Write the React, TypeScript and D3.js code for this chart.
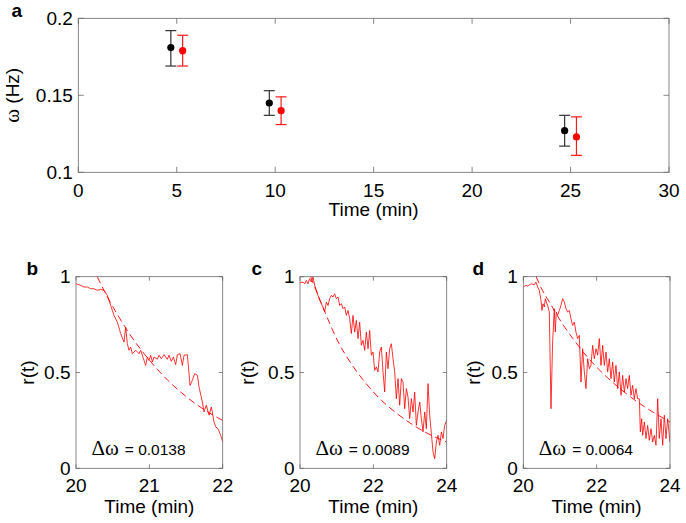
import React from 'react';
import * as d3 from 'd3';

// ---------- Panel a data ----------
const aTicksX = [0, 5, 10, 15, 20, 25, 30];
const aTicksY = [0.1, 0.15, 0.2];
const blackTime = [4.7, 9.7, 24.7];
const blackOmega = [0.181, 0.145, 0.127];
const blackLow = [0.169, 0.137, 0.117];
const blackHigh = [0.192, 0.153, 0.137];
const redTime = [5.3, 10.3, 25.3];
const redOmega = [0.179, 0.140, 0.123];
const redLow = [0.169, 0.131, 0.111];
const redHigh = [0.189, 0.149, 0.136];

// ---------- Panels b-d data ----------
const rTicks = [0, 0.5, 1];
const ticksB = [20, 21, 22];
const ticksCD = [20, 22, 24];
const deltaOmega = ['0.0138', '0.0089', '0.0064'];

const solidB: [number, number][] = [
  [20.0, 0.963], [20.064, 0.955], [20.109, 0.946], [20.155, 0.946], [20.2, 0.937], [20.245, 0.937],
  [20.291, 0.929], [20.336, 0.934], [20.382, 0.929], [20.427, 0.903], [20.473, 0.85], [20.518, 0.798],
  [20.564, 0.763], [20.609, 0.703], [20.655, 0.659], [20.677, 0.737], [20.7, 0.65], [20.723, 0.616],
  [20.745, 0.633], [20.768, 0.598], [20.814, 0.616], [20.859, 0.598], [20.882, 0.616], [20.927, 0.563],
  [20.95, 0.537], [20.973, 0.581], [20.995, 0.563], [21.018, 0.59], [21.041, 0.555], [21.064, 0.581],
  [21.109, 0.569], [21.132, 0.59], [21.164, 0.572], [21.2, 0.593], [21.245, 0.569], [21.268, 0.59],
  [21.3, 0.558], [21.327, 0.581], [21.359, 0.541], [21.382, 0.593], [21.418, 0.598], [21.45, 0.537],
  [21.473, 0.59], [21.518, 0.593], [21.555, 0.433], [21.586, 0.459], [21.618, 0.494], [21.655, 0.485],
  [21.677, 0.424], [21.723, 0.346], [21.745, 0.294], [21.777, 0.329], [21.814, 0.277], [21.845, 0.32],
  [21.882, 0.242], [21.905, 0.216], [21.936, 0.207], [21.973, 0.172], [22.0, 0.137],
];
const dashB: [number, number][] = [
  [20.29, 1.0], [20.4, 0.915], [20.5, 0.845], [20.6, 0.78], [20.75, 0.69], [21.0, 0.565],
  [21.25, 0.46], [21.5, 0.375], [21.75, 0.305], [22.0, 0.25],
];

const solidC: [number, number][] = [
  [20.0, 0.969], [20.082, 0.972], [20.127, 0.963], [20.173, 0.981], [20.218, 0.963], [20.264, 0.99],
  [20.309, 0.972], [20.355, 0.998], [20.4, 0.955], [20.445, 0.929], [20.491, 0.903], [20.536, 0.877],
  [20.582, 0.859], [20.627, 0.842], [20.673, 0.816], [20.718, 0.868], [20.764, 0.85], [20.809, 0.885],
  [20.855, 0.903], [20.9, 0.894], [20.945, 0.911], [20.991, 0.885], [21.036, 0.894], [21.082, 0.85],
  [21.127, 0.859], [21.173, 0.833], [21.218, 0.842], [21.264, 0.798], [21.309, 0.824], [21.355, 0.781],
  [21.4, 0.703], [21.445, 0.798], [21.491, 0.711], [21.536, 0.772], [21.582, 0.677], [21.627, 0.763],
  [21.673, 0.642], [21.718, 0.668], [21.764, 0.616], [21.809, 0.711], [21.855, 0.624], [21.9, 0.72],
  [21.945, 0.59], [21.991, 0.607], [22.036, 0.511], [22.082, 0.529], [22.127, 0.503], [22.173, 0.607],
  [22.218, 0.633], [22.264, 0.503], [22.309, 0.398], [22.355, 0.607], [22.4, 0.52], [22.445, 0.624],
  [22.491, 0.65], [22.536, 0.572], [22.582, 0.503], [22.627, 0.363], [22.673, 0.468], [22.718, 0.329],
  [22.764, 0.468], [22.809, 0.45], [22.855, 0.311], [22.9, 0.416], [22.945, 0.372], [22.991, 0.259],
  [23.036, 0.363], [23.082, 0.294], [23.127, 0.398], [23.173, 0.224], [23.218, 0.294], [23.264, 0.346],
  [23.309, 0.259], [23.355, 0.19], [23.4, 0.294], [23.445, 0.207], [23.491, 0.442], [23.536, 0.277],
  [23.582, 0.181], [23.627, 0.085], [23.673, 0.05], [23.718, 0.137], [23.764, 0.172], [23.809, 0.12],
  [23.855, 0.19], [23.9, 0.155], [23.945, 0.224], [24.0, 0.25],
];
const dashC: [number, number][] = [
  [20.29, 1.0], [20.5, 0.9], [20.67, 0.82], [21.04, 0.66], [21.4, 0.545], [21.76, 0.452],
  [22.22, 0.355], [22.67, 0.282], [23.13, 0.22], [23.58, 0.172], [24.0, 0.137],
];

const solidD: [number, number][] = [
  [20.0, 0.946], [20.073, 0.955], [20.118, 0.951], [20.209, 0.963], [20.3, 0.958], [20.345, 0.972],
  [20.391, 0.946], [20.436, 0.929], [20.482, 0.877], [20.509, 0.824], [20.536, 0.859], [20.573, 0.842],
  [20.6, 0.885], [20.627, 0.868], [20.664, 0.85], [20.709, 0.816], [20.755, 0.311], [20.8, 0.659],
  [20.845, 0.833], [20.873, 0.711], [20.9, 0.816], [20.936, 0.798], [20.982, 0.824], [21.027, 0.85],
  [21.073, 0.885], [21.118, 0.868], [21.164, 0.833], [21.209, 0.816], [21.255, 0.824], [21.3, 0.781],
  [21.345, 0.746], [21.391, 0.763], [21.436, 0.711], [21.482, 0.677], [21.527, 0.694], [21.573, 0.45],
  [21.618, 0.624], [21.664, 0.503], [21.709, 0.416], [21.755, 0.572], [21.8, 0.52], [21.845, 0.537],
  [21.891, 0.642], [21.936, 0.572], [21.982, 0.624], [22.027, 0.59], [22.073, 0.677], [22.118, 0.537],
  [22.164, 0.642], [22.209, 0.537], [22.255, 0.607], [22.3, 0.503], [22.345, 0.572], [22.391, 0.468],
  [22.436, 0.555], [22.482, 0.45], [22.527, 0.537], [22.573, 0.416], [22.618, 0.503], [22.664, 0.381],
  [22.709, 0.485], [22.755, 0.398], [22.8, 0.468], [22.845, 0.416], [22.891, 0.485], [22.936, 0.381],
  [22.982, 0.433], [23.027, 0.363], [23.073, 0.416], [23.118, 0.363], [23.164, 0.363], [23.191, 0.19],
  [23.227, 0.259], [23.255, 0.172], [23.3, 0.242], [23.345, 0.155], [23.391, 0.224], [23.436, 0.146],
  [23.482, 0.207], [23.527, 0.137], [23.573, 0.172], [23.618, 0.12], [23.664, 0.363], [23.709, 0.155],
  [23.755, 0.259], [23.8, 0.12], [23.845, 0.277], [23.891, 0.155], [23.936, 0.259], [24.0, 0.137],
];
const dashD: [number, number][] = [
  [20.35, 1.0], [20.48, 0.945], [20.75, 0.855], [21.03, 0.765], [21.4, 0.665], [21.75, 0.58],
  [22.2, 0.49], [22.66, 0.412], [23.3, 0.322], [23.65, 0.28], [24.0, 0.242],
];

const SANS = '"Liberation Sans", Arial, Helvetica, sans-serif';
const SERIF = '"Liberation Serif", "Times New Roman", serif';
const FRAME = '#6a6a6a';
const FS = 19;
const LETTER_FS = 19;

function PanelA() {
  const left = 78.3, right = 669, top = 18.3, bottom = 172.3;
  const x = d3.scaleLinear().domain([0, 30]).range([left, right]);
  const y = d3.scaleLinear().domain([0.1, 0.2]).range([bottom, top]);
  const tl = 5.5;
  const series = [
    { t: blackTime, v: blackOmega, lo: blackLow, hi: blackHigh, bar: '#333333', dot: '#000000' },
    { t: redTime, v: redOmega, lo: redLow, hi: redHigh, bar: '#ff1a1a', dot: '#ff0000' },
  ];
  return (
    <g>
      <text x={11.5} y={17} fontFamily={SANS} fontWeight="bold" fontSize={LETTER_FS}>a</text>
      {aTicksX.map((t) => (
        <g key={'ax' + t}>
          <line x1={x(t)} x2={x(t)} y1={bottom} y2={bottom - tl} stroke={FRAME} strokeWidth={0.8} />
          <line x1={x(t)} x2={x(t)} y1={top} y2={top + tl} stroke={FRAME} strokeWidth={0.8} />
          <text x={x(t)} y={bottom + 24.5} textAnchor="middle" fontFamily={SANS} fontSize={FS}>{t}</text>
        </g>
      ))}
      {aTicksY.map((v) => (
        <g key={'ay' + v}>
          <line x1={left} x2={left + tl} y1={y(v)} y2={y(v)} stroke={FRAME} strokeWidth={0.8} />
          <line x1={right} x2={right - tl} y1={y(v)} y2={y(v)} stroke={FRAME} strokeWidth={0.8} />
          <text x={left - 5.5} y={y(v)} dy="0.35em" textAnchor="end" fontFamily={SANS} fontSize={FS}>{v}</text>
        </g>
      ))}
      <rect x={left} y={top} width={right - left} height={bottom - top} fill="none" stroke={FRAME} strokeWidth={0.8} />
      {series.map((s, si) => (
        <g key={'s' + si}>
          {s.t.map((t, i) => (
            <g key={i}>
              <line x1={x(t)} x2={x(t)} y1={y(s.lo[i])} y2={y(s.hi[i])} stroke={s.bar} strokeWidth={1.2} />
              <line x1={x(t) - 5.5} x2={x(t) + 5.5} y1={y(s.lo[i])} y2={y(s.lo[i])} stroke={s.bar} strokeWidth={1.2} />
              <line x1={x(t) - 5.5} x2={x(t) + 5.5} y1={y(s.hi[i])} y2={y(s.hi[i])} stroke={s.bar} strokeWidth={1.2} />
              <circle cx={x(t)} cy={y(s.v[i])} r={3.6} fill={s.dot} />
            </g>
          ))}
        </g>
      ))}
      <text x={(left + right) / 2} y={216} textAnchor="middle" fontFamily={SANS} fontSize={FS}>Time (min)</text>
      <text transform={`translate(19,${(top + bottom) / 2}) rotate(-90)`} textAnchor="middle" fontFamily={SANS} fontSize={FS}>
        <tspan fontFamily={SERIF} fontSize={21}>ω</tspan> (Hz)
      </text>
    </g>
  );
}

type PanelProps = {
  id: string;
  left: number;
  right: number;
  xDomain: [number, number];
  xTicks: number[];
  solid: [number, number][];
  dashed: [number, number][];
  letter: string;
  letterX: number;
  ylabelX: number;
  dw: string;
};

function Panel(p: PanelProps) {
  const top = 276.7, bottom = 468.3;
  const x = d3.scaleLinear().domain(p.xDomain).range([p.left, p.right]);
  const y = d3.scaleLinear().domain([0, 1]).range([bottom, top]);
  const solidLine = d3.line<[number, number]>().x((d) => x(d[0])).y((d) => y(d[1]));
  const dashLine = d3.line<[number, number]>().x((d) => x(d[0])).y((d) => y(d[1])).curve(d3.curveMonotoneX);
  const tl = 4;
  return (
    <g>
      <defs>
        <clipPath id={'clip' + p.id}>
          <rect x={p.left} y={top} width={p.right - p.left} height={bottom - top} />
        </clipPath>
      </defs>
      <text x={p.letterX} y={275} fontFamily={SANS} fontWeight="bold" fontSize={LETTER_FS}>{p.letter}</text>
      <g clipPath={`url(#clip${p.id})`}>
        <path d={dashLine(p.dashed) || ''} fill="none" stroke="#ff0000" strokeWidth={0.9} strokeDasharray="7,4" />
        <path d={solidLine(p.solid) || ''} fill="none" stroke="#ff0000" strokeWidth={0.8} strokeLinejoin="round" />
      </g>
      {p.xTicks.map((t) => (
        <g key={'x' + t}>
          <line x1={x(t)} x2={x(t)} y1={bottom} y2={bottom - tl} stroke={FRAME} strokeWidth={0.8} />
          <line x1={x(t)} x2={x(t)} y1={top} y2={top + tl} stroke={FRAME} strokeWidth={0.8} />
          <text x={x(t)} y={bottom + 24} textAnchor="middle" fontFamily={SANS} fontSize={FS}>{t}</text>
        </g>
      ))}
      {rTicks.map((v) => (
        <g key={'y' + v}>
          <line x1={p.left} x2={p.left + tl} y1={y(v)} y2={y(v)} stroke={FRAME} strokeWidth={0.8} />
          <line x1={p.right} x2={p.right - tl} y1={y(v)} y2={y(v)} stroke={FRAME} strokeWidth={0.8} />
          <text x={p.left - 5.5} y={y(v)} dy="0.35em" textAnchor="end" fontFamily={SANS} fontSize={FS}>{v}</text>
        </g>
      ))}
      <rect x={p.left} y={top} width={p.right - p.left} height={bottom - top} fill="none" stroke={FRAME} strokeWidth={0.8} />
      <text x={p.left + 15.5} y={bottom - 13.5}>
        <tspan fontFamily={SERIF} fontSize={21}>Δω</tspan>
        <tspan fontFamily={SANS} fontSize={15.5} dx={6}>= {p.dw}</tspan>
      </text>
      <text x={(p.left + p.right) / 2} y={512.5} textAnchor="middle" fontFamily={SANS} fontSize={FS}>Time (min)</text>
      <text transform={`translate(${p.ylabelX},${(top + bottom) / 2}) rotate(-90)`} textAnchor="middle" fontFamily={SANS} fontSize={FS}>r(t)</text>
    </g>
  );
}

export default function App() {
  return (
    <svg width={686} height={523} style={{ position: 'absolute', left: 0, top: 0, background: '#fff' }}>
      <rect x={0} y={0} width={686} height={523} fill="#fff" />
      <PanelA />
      <Panel id="b" left={76} right={222.7} xDomain={[20, 22]} xTicks={ticksB} solid={solidB} dashed={dashB}
        letter="b" letterX={26.5} ylabelX={34} dw={deltaOmega[0]} />
      <Panel id="c" left={300} right={446.7} xDomain={[20, 24]} xTicks={ticksCD} solid={solidC} dashed={dashC}
        letter="c" letterX={251.5} ylabelX={253.5} dw={deltaOmega[1]} />
      <Panel id="d" left={523.3} right={670} xDomain={[20, 24]} xTicks={ticksCD} solid={solidD} dashed={dashD}
        letter="d" letterX={472.5} ylabelX={480} dw={deltaOmega[2]} />
    </svg>
  );
}
